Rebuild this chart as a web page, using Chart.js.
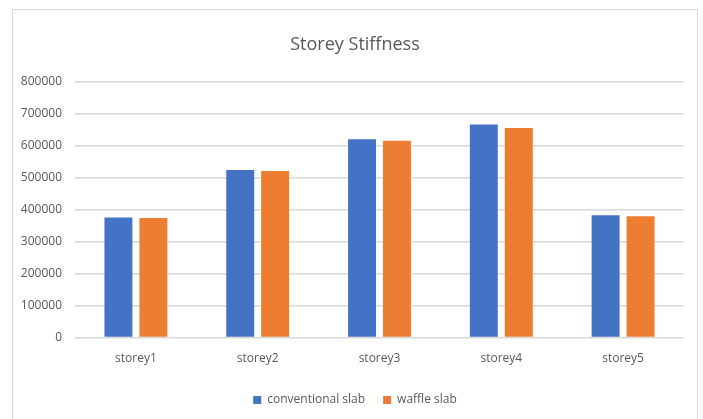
<!DOCTYPE html>
<html>
<head>
<meta charset="utf-8">
<script src="https://cdn.jsdelivr.net/npm/chart.js@4.4.0/dist/chart.umd.min.js"></script>
<style>
  html, body { margin: 0; padding: 0; background: #fff; }
  #wrap { width: 703px; height: 419px; position: relative; }
</style>
</head>
<body>
<div id="wrap"><canvas id="miGrafica"></canvas></div>
<script>
// data
const storeys = ["storey1", "storey2", "storey3", "storey4", "storey5"];
const conventionalSlab = [375000, 524000, 620000, 666000, 382000];
const waffleSlab = [374000, 521000, 615000, 655000, 379000];
const yTicks = [0, 100000, 200000, 300000, 400000, 500000, 600000, 700000, 800000];

const fuente = "'Open Sans', 'DejaVu Sans', sans-serif";
const gris = "#595959";

// light frame round the chart, like the Excel chart area
const marco = {
    id: "marco",
    beforeDraw(chart) {
        const ctx = chart.ctx;
        ctx.save();
        ctx.fillStyle = "#fff";
        ctx.fillRect(0, 0, chart.width, chart.height);
        ctx.strokeStyle = "#d9d9d9";
        ctx.lineWidth = 1;
        ctx.strokeRect(12.5, 9.5, 685, 430);
        ctx.restore();
    }
};

const ctx = document.getElementById("miGrafica").getContext("2d");
new Chart(ctx, {
    type: "bar",
    data: {
        labels: storeys,
        datasets: [
            {
                label: "conventional slab",
                data: conventionalSlab,
                backgroundColor: "#4472C4",
                barPercentage: 0.8,
                categoryPercentage: 0.574,
            },
            {
                label: "waffle slab",
                data: waffleSlab,
                backgroundColor: "#ED7D31",
                barPercentage: 0.8,
                categoryPercentage: 0.574,
            },
        ],
    },
    options: {
        responsive: true,
        maintainAspectRatio: false,
        animation: false,
        layout: { padding: { left: 7, right: 0, top: 0, bottom: 3 } },
        plugins: {
            title: {
                display: true,
                text: "Storey Stiffness",
                color: gris,
                font: { family: fuente, size: 18, weight: "normal" },
                padding: { top: 34, bottom: 26 },
            },
            legend: {
                position: "bottom",
                labels: {
                    color: gris,
                    font: { family: fuente, size: 12 },
                    boxWidth: 8,
                    boxHeight: 8,
                    padding: 18,
                },
            },
            tooltip: { enabled: false },
        },
        scales: {
            x: {
                grid: { display: false },
                border: { display: false },
                afterFit(scale) { scale.height += 4; },
                ticks: {
                    color: gris,
                    font: { family: fuente, size: 12 },
                    padding: 6,
                },
            },
            y: {
                min: 0,
                max: 800000,
                afterFit(scale) { scale.width = 68; },
                afterBuildTicks(scale) {
                    scale.ticks = yTicks.map((v) => ({ value: v }));
                },
                grid: { color: "#d9d9d9", lineWidth: 1.5, drawTicks: false },
                border: { display: false },
                ticks: {
                    color: gris,
                    font: { family: fuente, size: 12 },
                    padding: 13,
                    callback: (v) => String(v),
                },
            },
            // empty right axis, only keeps space so title and legend sit centred like the original
            y2: {
                type: "linear",
                position: "right",
                afterFit(scale) { scale.width = 19; },
                grid: { display: false },
                border: { display: false },
                ticks: { display: false },
            },
        },
    },
    plugins: [marco],
});
</script>
</body>
</html>
